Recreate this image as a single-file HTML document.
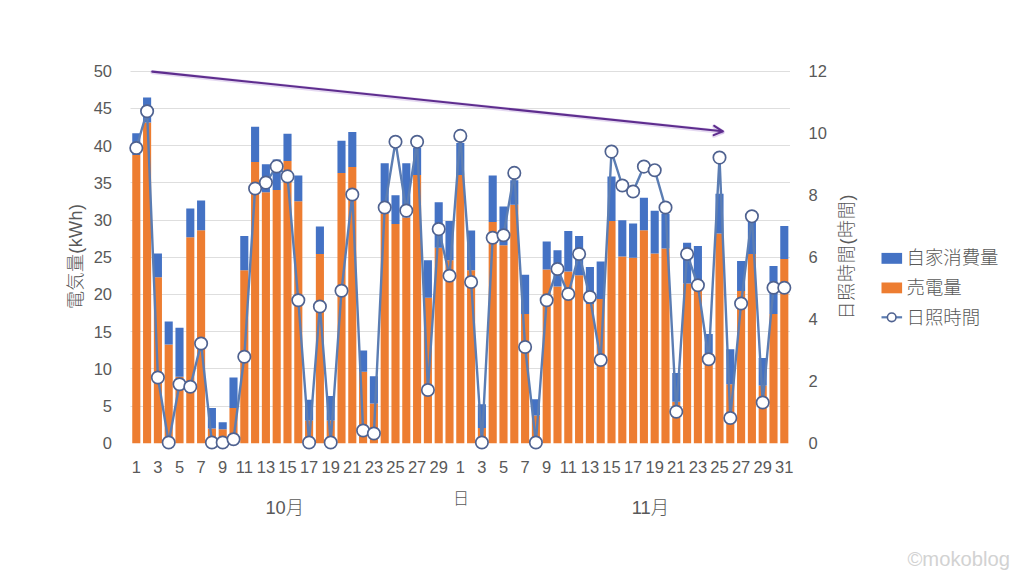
<!DOCTYPE html><html><head><meta charset="utf-8"><style>html,body{margin:0;padding:0;background:#fff;width:1024px;height:576px;overflow:hidden}svg{display:block}text{font-family:"Liberation Sans","Noto Sans CJK JP",sans-serif;fill:#595959}.j{font-weight:300}</style></head><body>
<svg width="1024" height="576" viewBox="0 0 1024 576">
<rect width="1024" height="576" fill="#fff"/>
<path d="M130.5 71.50H790M130.5 108.50H790M130.5 145.50H790M130.5 182.50H790M130.5 220.50H790M130.5 257.50H790M130.5 294.50H790M130.5 331.50H790M130.5 368.50H790M130.5 406.50H790" stroke="#DEDEDE" stroke-width="1" fill="none"/>
<path d="M132.25 155.00h8.10V443.25h-8.10zM143.05 122.50h8.10V443.25h-8.10zM153.85 277.25h8.10V443.25h-8.10zM164.65 344.50h8.10V443.25h-8.10zM175.45 376.75h8.10V443.25h-8.10zM186.25 237.25h8.10V443.25h-8.10zM197.05 230.25h8.10V443.25h-8.10zM207.85 428.50h8.10V443.25h-8.10zM218.65 429.25h8.10V443.25h-8.10zM229.45 408.00h8.10V443.25h-8.10zM240.25 270.25h8.10V443.25h-8.10zM251.05 162.00h8.10V443.25h-8.10zM261.85 192.20h8.10V443.25h-8.10zM272.65 190.00h8.10V443.25h-8.10zM283.45 161.00h8.10V443.25h-8.10zM294.25 201.25h8.10V443.25h-8.10zM305.05 420.50h8.10V443.25h-8.10zM315.85 254.00h8.10V443.25h-8.10zM326.65 420.50h8.10V443.25h-8.10zM337.45 173.00h8.10V443.25h-8.10zM348.25 167.00h8.10V443.25h-8.10zM359.05 371.75h8.10V443.25h-8.10zM369.85 403.50h8.10V443.25h-8.10zM380.65 213.80h8.10V443.25h-8.10zM391.45 223.90h8.10V443.25h-8.10zM402.25 217.60h8.10V443.25h-8.10zM413.05 175.00h8.10V443.25h-8.10zM423.85 297.75h8.10V443.25h-8.10zM434.65 247.75h8.10V443.25h-8.10zM445.45 260.25h8.10V443.25h-8.10zM456.25 175.00h8.10V443.25h-8.10zM467.05 270.25h8.10V443.25h-8.10zM477.85 428.00h8.10V443.25h-8.10zM488.65 222.00h8.10V443.25h-8.10zM499.45 245.25h8.10V443.25h-8.10zM510.25 204.80h8.10V443.25h-8.10zM521.05 314.00h8.10V443.25h-8.10zM531.85 415.50h8.10V443.25h-8.10zM542.65 269.50h8.10V443.25h-8.10zM553.45 286.50h8.10V443.25h-8.10zM564.25 271.50h8.10V443.25h-8.10zM575.05 275.25h8.10V443.25h-8.10zM585.85 304.00h8.10V443.25h-8.10zM596.65 299.00h8.10V443.25h-8.10zM607.45 221.00h8.10V443.25h-8.10zM618.25 256.50h8.10V443.25h-8.10zM629.05 257.75h8.10V443.25h-8.10zM639.85 230.25h8.10V443.25h-8.10zM650.65 253.50h8.10V443.25h-8.10zM661.45 248.50h8.10V443.25h-8.10zM672.25 401.75h8.10V443.25h-8.10zM683.05 283.50h8.10V443.25h-8.10zM693.85 289.00h8.10V443.25h-8.10zM704.65 353.00h8.10V443.25h-8.10zM715.45 233.50h8.10V443.25h-8.10zM726.25 384.25h8.10V443.25h-8.10zM737.05 291.00h8.10V443.25h-8.10zM747.85 254.00h8.10V443.25h-8.10zM758.65 385.50h8.10V443.25h-8.10zM769.45 314.00h8.10V443.25h-8.10zM780.25 259.00h8.10V443.25h-8.10z" fill="#ED7D31"/>
<path d="M132.25 133.25h8.10V155.00h-8.10zM143.05 97.50h8.10V122.50h-8.10zM153.85 253.50h8.10V277.25h-8.10zM164.65 321.50h8.10V344.50h-8.10zM175.45 327.75h8.10V376.75h-8.10zM186.25 208.50h8.10V237.25h-8.10zM197.05 200.50h8.10V230.25h-8.10zM207.85 408.00h8.10V428.50h-8.10zM218.65 422.25h8.10V429.25h-8.10zM229.45 377.50h8.10V408.00h-8.10zM240.25 236.00h8.10V270.25h-8.10zM251.05 126.75h8.10V162.00h-8.10zM261.85 164.30h8.10V192.20h-8.10zM272.65 159.50h8.10V190.00h-8.10zM283.45 133.75h8.10V161.00h-8.10zM294.25 175.50h8.10V201.25h-8.10zM305.05 399.75h8.10V420.50h-8.10zM315.85 226.50h8.10V254.00h-8.10zM326.65 396.00h8.10V420.50h-8.10zM337.45 140.75h8.10V173.00h-8.10zM348.25 132.00h8.10V167.00h-8.10zM359.05 350.50h8.10V371.75h-8.10zM369.85 376.25h8.10V403.50h-8.10zM380.65 163.20h8.10V213.80h-8.10zM391.45 195.30h8.10V223.90h-8.10zM402.25 163.20h8.10V217.60h-8.10zM413.05 147.90h8.10V175.00h-8.10zM423.85 260.25h8.10V297.75h-8.10zM434.65 202.30h8.10V247.75h-8.10zM445.45 220.90h8.10V260.25h-8.10zM456.25 143.10h8.10V175.00h-8.10zM467.05 230.40h8.10V270.25h-8.10zM477.85 404.25h8.10V428.00h-8.10zM488.65 175.60h8.10V222.00h-8.10zM499.45 206.50h8.10V245.25h-8.10zM510.25 180.20h8.10V204.80h-8.10zM521.05 274.75h8.10V314.00h-8.10zM531.85 399.25h8.10V415.50h-8.10zM542.65 241.50h8.10V269.50h-8.10zM553.45 250.25h8.10V286.50h-8.10zM564.25 231.00h8.10V271.50h-8.10zM575.05 236.00h8.10V275.25h-8.10zM585.85 267.00h8.10V304.00h-8.10zM596.65 261.50h8.10V299.00h-8.10zM607.45 176.40h8.10V221.00h-8.10zM618.25 220.25h8.10V256.50h-8.10zM629.05 223.50h8.10V257.75h-8.10zM639.85 197.70h8.10V230.25h-8.10zM650.65 210.80h8.10V253.50h-8.10zM661.45 213.80h8.10V248.50h-8.10zM672.25 373.00h8.10V401.75h-8.10zM683.05 242.75h8.10V283.50h-8.10zM693.85 246.00h8.10V289.00h-8.10zM704.65 334.00h8.10V353.00h-8.10zM715.45 193.80h8.10V233.50h-8.10zM726.25 349.25h8.10V384.25h-8.10zM737.05 261.00h8.10V291.00h-8.10zM747.85 221.00h8.10V254.00h-8.10zM758.65 358.00h8.10V385.50h-8.10zM769.45 266.00h8.10V314.00h-8.10zM780.25 226.00h8.10V259.00h-8.10z" fill="#4472C4"/>
<polyline points="136.30,148.00 147.10,111.25 157.90,377.50 168.70,442.50 179.50,384.25 190.30,386.75 201.10,343.50 211.90,442.50 222.70,442.50 233.50,439.25 244.30,356.75 255.10,188.50 265.90,182.60 276.70,166.40 287.50,176.40 298.30,300.25 309.10,442.50 319.90,306.50 330.70,442.50 341.50,290.75 352.30,194.50 363.10,430.50 373.90,433.50 384.70,207.50 395.50,141.80 406.30,210.60 417.10,141.80 427.90,390.00 438.70,229.10 449.50,275.75 460.30,135.90 471.10,282.00 481.90,442.50 492.70,237.75 503.50,235.25 514.30,172.90 525.10,347.00 535.90,442.50 546.70,300.25 557.50,269.00 568.30,294.00 579.10,254.00 589.90,297.00 600.70,360.00 611.50,151.60 622.30,185.50 633.10,191.50 643.90,166.60 654.70,170.20 665.50,207.50 676.30,411.75 687.10,254.00 697.90,285.25 708.70,359.25 719.50,157.60 730.30,418.00 741.10,303.50 751.90,216.30 762.70,402.50 773.50,287.75 784.30,287.75" fill="none" stroke="#5B7DB3" stroke-width="2.4" stroke-linejoin="round"/>
<circle cx="136.30" cy="148.00" r="6.2" fill="#fff" stroke="#4F6290" stroke-width="1.7"/>
<circle cx="147.10" cy="111.25" r="6.2" fill="#fff" stroke="#4F6290" stroke-width="1.7"/>
<circle cx="157.90" cy="377.50" r="6.2" fill="#fff" stroke="#4F6290" stroke-width="1.7"/>
<circle cx="168.70" cy="442.50" r="6.2" fill="#fff" stroke="#4F6290" stroke-width="1.7"/>
<circle cx="179.50" cy="384.25" r="6.2" fill="#fff" stroke="#4F6290" stroke-width="1.7"/>
<circle cx="190.30" cy="386.75" r="6.2" fill="#fff" stroke="#4F6290" stroke-width="1.7"/>
<circle cx="201.10" cy="343.50" r="6.2" fill="#fff" stroke="#4F6290" stroke-width="1.7"/>
<circle cx="211.90" cy="442.50" r="6.2" fill="#fff" stroke="#4F6290" stroke-width="1.7"/>
<circle cx="222.70" cy="442.50" r="6.2" fill="#fff" stroke="#4F6290" stroke-width="1.7"/>
<circle cx="233.50" cy="439.25" r="6.2" fill="#fff" stroke="#4F6290" stroke-width="1.7"/>
<circle cx="244.30" cy="356.75" r="6.2" fill="#fff" stroke="#4F6290" stroke-width="1.7"/>
<circle cx="255.10" cy="188.50" r="6.2" fill="#fff" stroke="#4F6290" stroke-width="1.7"/>
<circle cx="265.90" cy="182.60" r="6.2" fill="#fff" stroke="#4F6290" stroke-width="1.7"/>
<circle cx="276.70" cy="166.40" r="6.2" fill="#fff" stroke="#4F6290" stroke-width="1.7"/>
<circle cx="287.50" cy="176.40" r="6.2" fill="#fff" stroke="#4F6290" stroke-width="1.7"/>
<circle cx="298.30" cy="300.25" r="6.2" fill="#fff" stroke="#4F6290" stroke-width="1.7"/>
<circle cx="309.10" cy="442.50" r="6.2" fill="#fff" stroke="#4F6290" stroke-width="1.7"/>
<circle cx="319.90" cy="306.50" r="6.2" fill="#fff" stroke="#4F6290" stroke-width="1.7"/>
<circle cx="330.70" cy="442.50" r="6.2" fill="#fff" stroke="#4F6290" stroke-width="1.7"/>
<circle cx="341.50" cy="290.75" r="6.2" fill="#fff" stroke="#4F6290" stroke-width="1.7"/>
<circle cx="352.30" cy="194.50" r="6.2" fill="#fff" stroke="#4F6290" stroke-width="1.7"/>
<circle cx="363.10" cy="430.50" r="6.2" fill="#fff" stroke="#4F6290" stroke-width="1.7"/>
<circle cx="373.90" cy="433.50" r="6.2" fill="#fff" stroke="#4F6290" stroke-width="1.7"/>
<circle cx="384.70" cy="207.50" r="6.2" fill="#fff" stroke="#4F6290" stroke-width="1.7"/>
<circle cx="395.50" cy="141.80" r="6.2" fill="#fff" stroke="#4F6290" stroke-width="1.7"/>
<circle cx="406.30" cy="210.60" r="6.2" fill="#fff" stroke="#4F6290" stroke-width="1.7"/>
<circle cx="417.10" cy="141.80" r="6.2" fill="#fff" stroke="#4F6290" stroke-width="1.7"/>
<circle cx="427.90" cy="390.00" r="6.2" fill="#fff" stroke="#4F6290" stroke-width="1.7"/>
<circle cx="438.70" cy="229.10" r="6.2" fill="#fff" stroke="#4F6290" stroke-width="1.7"/>
<circle cx="449.50" cy="275.75" r="6.2" fill="#fff" stroke="#4F6290" stroke-width="1.7"/>
<circle cx="460.30" cy="135.90" r="6.2" fill="#fff" stroke="#4F6290" stroke-width="1.7"/>
<circle cx="471.10" cy="282.00" r="6.2" fill="#fff" stroke="#4F6290" stroke-width="1.7"/>
<circle cx="481.90" cy="442.50" r="6.2" fill="#fff" stroke="#4F6290" stroke-width="1.7"/>
<circle cx="492.70" cy="237.75" r="6.2" fill="#fff" stroke="#4F6290" stroke-width="1.7"/>
<circle cx="503.50" cy="235.25" r="6.2" fill="#fff" stroke="#4F6290" stroke-width="1.7"/>
<circle cx="514.30" cy="172.90" r="6.2" fill="#fff" stroke="#4F6290" stroke-width="1.7"/>
<circle cx="525.10" cy="347.00" r="6.2" fill="#fff" stroke="#4F6290" stroke-width="1.7"/>
<circle cx="535.90" cy="442.50" r="6.2" fill="#fff" stroke="#4F6290" stroke-width="1.7"/>
<circle cx="546.70" cy="300.25" r="6.2" fill="#fff" stroke="#4F6290" stroke-width="1.7"/>
<circle cx="557.50" cy="269.00" r="6.2" fill="#fff" stroke="#4F6290" stroke-width="1.7"/>
<circle cx="568.30" cy="294.00" r="6.2" fill="#fff" stroke="#4F6290" stroke-width="1.7"/>
<circle cx="579.10" cy="254.00" r="6.2" fill="#fff" stroke="#4F6290" stroke-width="1.7"/>
<circle cx="589.90" cy="297.00" r="6.2" fill="#fff" stroke="#4F6290" stroke-width="1.7"/>
<circle cx="600.70" cy="360.00" r="6.2" fill="#fff" stroke="#4F6290" stroke-width="1.7"/>
<circle cx="611.50" cy="151.60" r="6.2" fill="#fff" stroke="#4F6290" stroke-width="1.7"/>
<circle cx="622.30" cy="185.50" r="6.2" fill="#fff" stroke="#4F6290" stroke-width="1.7"/>
<circle cx="633.10" cy="191.50" r="6.2" fill="#fff" stroke="#4F6290" stroke-width="1.7"/>
<circle cx="643.90" cy="166.60" r="6.2" fill="#fff" stroke="#4F6290" stroke-width="1.7"/>
<circle cx="654.70" cy="170.20" r="6.2" fill="#fff" stroke="#4F6290" stroke-width="1.7"/>
<circle cx="665.50" cy="207.50" r="6.2" fill="#fff" stroke="#4F6290" stroke-width="1.7"/>
<circle cx="676.30" cy="411.75" r="6.2" fill="#fff" stroke="#4F6290" stroke-width="1.7"/>
<circle cx="687.10" cy="254.00" r="6.2" fill="#fff" stroke="#4F6290" stroke-width="1.7"/>
<circle cx="697.90" cy="285.25" r="6.2" fill="#fff" stroke="#4F6290" stroke-width="1.7"/>
<circle cx="708.70" cy="359.25" r="6.2" fill="#fff" stroke="#4F6290" stroke-width="1.7"/>
<circle cx="719.50" cy="157.60" r="6.2" fill="#fff" stroke="#4F6290" stroke-width="1.7"/>
<circle cx="730.30" cy="418.00" r="6.2" fill="#fff" stroke="#4F6290" stroke-width="1.7"/>
<circle cx="741.10" cy="303.50" r="6.2" fill="#fff" stroke="#4F6290" stroke-width="1.7"/>
<circle cx="751.90" cy="216.30" r="6.2" fill="#fff" stroke="#4F6290" stroke-width="1.7"/>
<circle cx="762.70" cy="402.50" r="6.2" fill="#fff" stroke="#4F6290" stroke-width="1.7"/>
<circle cx="773.50" cy="287.75" r="6.2" fill="#fff" stroke="#4F6290" stroke-width="1.7"/>
<circle cx="784.30" cy="287.75" r="6.2" fill="#fff" stroke="#4F6290" stroke-width="1.7"/>
<g stroke="#8A50C0" stroke-width="4.2" stroke-opacity="0.22" fill="none" stroke-linecap="round" stroke-linejoin="round"><path d="M152.3 72.2L722.3 131.9"/><path d="M714.2 126.5L722.8 132L713.7 135.7"/></g><g stroke="#5E2D8E" stroke-width="2.1" fill="none" stroke-linecap="round" stroke-linejoin="round"><path d="M152.3 71.6L722.3 131.3"/><path d="M714.2 125.9L722.8 131.4L713.7 135.1"/></g>
<text x="112" y="77.25" font-size="16.5" text-anchor="end">50</text>
<text x="112" y="114.45" font-size="16.5" text-anchor="end">45</text>
<text x="112" y="151.65" font-size="16.5" text-anchor="end">40</text>
<text x="112" y="188.85" font-size="16.5" text-anchor="end">35</text>
<text x="112" y="226.05" font-size="16.5" text-anchor="end">30</text>
<text x="112" y="263.25" font-size="16.5" text-anchor="end">25</text>
<text x="112" y="300.45" font-size="16.5" text-anchor="end">20</text>
<text x="112" y="337.65" font-size="16.5" text-anchor="end">15</text>
<text x="112" y="374.85" font-size="16.5" text-anchor="end">10</text>
<text x="112" y="412.05" font-size="16.5" text-anchor="end">5</text>
<text x="112" y="449.25" font-size="16.5" text-anchor="end">0</text>
<text x="808.5" y="77.25" font-size="16.5">12</text>
<text x="808.5" y="139.25" font-size="16.5">10</text>
<text x="808.5" y="201.25" font-size="16.5">8</text>
<text x="808.5" y="263.25" font-size="16.5">6</text>
<text x="808.5" y="325.25" font-size="16.5">4</text>
<text x="808.5" y="387.25" font-size="16.5">2</text>
<text x="808.5" y="449.25" font-size="16.5">0</text>
<text x="136.30" y="473" font-size="16.5" text-anchor="middle">1</text>
<text x="157.90" y="473" font-size="16.5" text-anchor="middle">3</text>
<text x="179.50" y="473" font-size="16.5" text-anchor="middle">5</text>
<text x="201.10" y="473" font-size="16.5" text-anchor="middle">7</text>
<text x="222.70" y="473" font-size="16.5" text-anchor="middle">9</text>
<text x="244.30" y="473" font-size="16.5" text-anchor="middle">11</text>
<text x="265.90" y="473" font-size="16.5" text-anchor="middle">13</text>
<text x="287.50" y="473" font-size="16.5" text-anchor="middle">15</text>
<text x="309.10" y="473" font-size="16.5" text-anchor="middle">17</text>
<text x="330.70" y="473" font-size="16.5" text-anchor="middle">19</text>
<text x="352.30" y="473" font-size="16.5" text-anchor="middle">21</text>
<text x="373.90" y="473" font-size="16.5" text-anchor="middle">23</text>
<text x="395.50" y="473" font-size="16.5" text-anchor="middle">25</text>
<text x="417.10" y="473" font-size="16.5" text-anchor="middle">27</text>
<text x="438.70" y="473" font-size="16.5" text-anchor="middle">29</text>
<text x="460.30" y="473" font-size="16.5" text-anchor="middle">1</text>
<text x="481.90" y="473" font-size="16.5" text-anchor="middle">3</text>
<text x="503.50" y="473" font-size="16.5" text-anchor="middle">5</text>
<text x="525.10" y="473" font-size="16.5" text-anchor="middle">7</text>
<text x="546.70" y="473" font-size="16.5" text-anchor="middle">9</text>
<text x="568.30" y="473" font-size="16.5" text-anchor="middle">11</text>
<text x="589.90" y="473" font-size="16.5" text-anchor="middle">13</text>
<text x="611.50" y="473" font-size="16.5" text-anchor="middle">15</text>
<text x="633.10" y="473" font-size="16.5" text-anchor="middle">17</text>
<text x="654.70" y="473" font-size="16.5" text-anchor="middle">19</text>
<text x="676.30" y="473" font-size="16.5" text-anchor="middle">21</text>
<text x="697.90" y="473" font-size="16.5" text-anchor="middle">23</text>
<text x="719.50" y="473" font-size="16.5" text-anchor="middle">25</text>
<text x="741.10" y="473" font-size="16.5" text-anchor="middle">27</text>
<text x="762.70" y="473" font-size="16.5" text-anchor="middle">29</text>
<text x="784.30" y="473" font-size="16.5" text-anchor="middle">31</text>
<text class="j" x="284.75" y="513.6" font-size="18.3" text-anchor="middle">10月</text>
<text class="j" x="650.4" y="513.6" font-size="18.3" text-anchor="middle">11月</text>
<text class="j" x="460.9" y="504" font-size="16" text-anchor="middle">日</text>
<text class="j" transform="translate(82,256.3) rotate(-90)" font-size="18" letter-spacing="0.4" text-anchor="middle">電気量(kWh)</text>
<text class="j" transform="translate(853,256.6) rotate(-90)" font-size="18" letter-spacing="0.7" text-anchor="middle">日照時間(時間)</text>
<rect x="881.5" y="252.9" width="20.6" height="10.9" fill="#4472C4"/>
<rect x="881.5" y="282.5" width="20.6" height="10.8" fill="#ED7D31"/>
<path d="M881.5 317.3H902.1" stroke="#5B7DB3" stroke-width="2.2"/>
<circle cx="891.7" cy="317.3" r="4.3" fill="#fff" stroke="#4F6290" stroke-width="1.6"/>
<text class="j" x="906.5" y="264" font-size="18.4">自家消費量</text>
<text class="j" x="906.5" y="294" font-size="18.4">売電量</text>
<text class="j" x="906.5" y="324" font-size="18.4">日照時間</text>
<text x="907.5" y="566.1" font-size="20.2" style="fill:#d2d2d2">©mokoblog</text>
</svg></body></html>
